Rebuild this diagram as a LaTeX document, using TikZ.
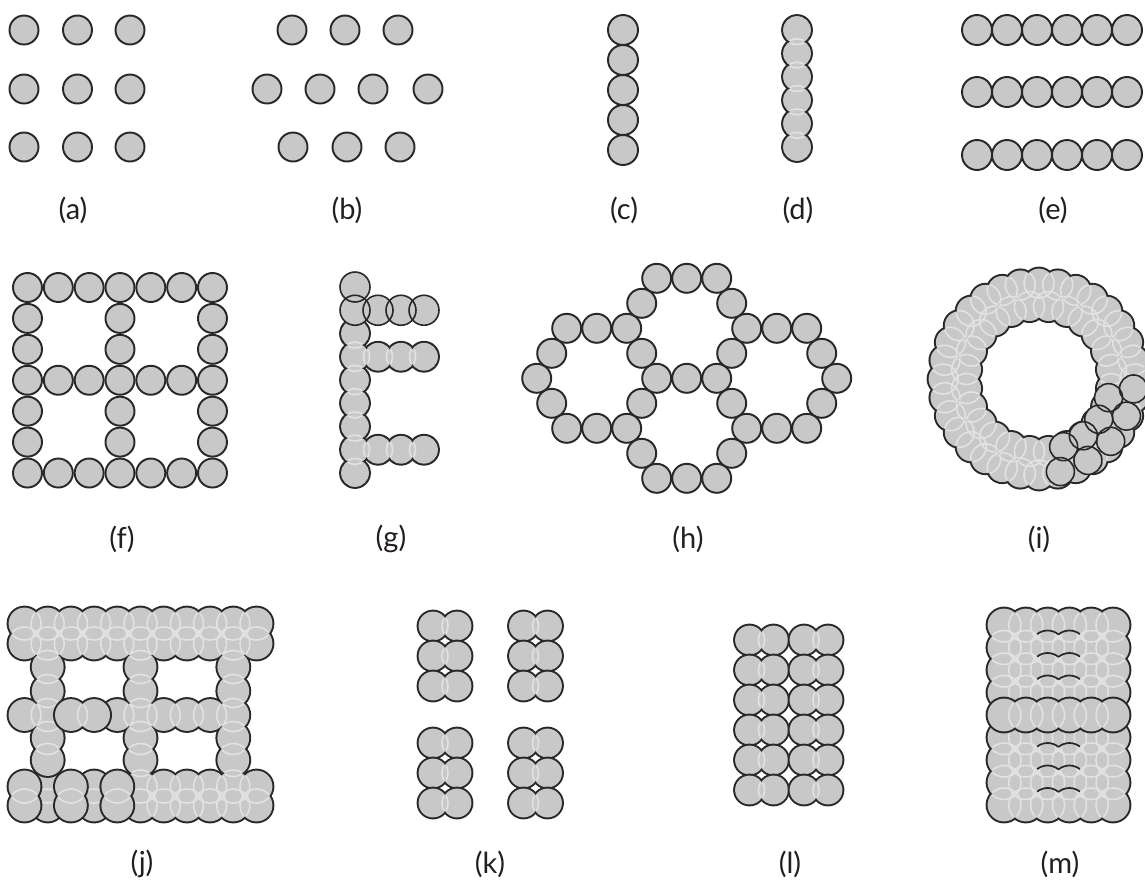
\documentclass[tikz,border=0pt]{standalone}
\usepackage{fontspec}
\setmainfont{Lato}
\definecolor{fillc}{RGB}{200,200,200}
\definecolor{outc}{RGB}{40,40,40}
\definecolor{lightc}{RGB}{226,226,226}
\definecolor{labc}{RGB}{35,31,32}
\newcommand\addpt[3]{\ifx#1\empty\xdef#1{#2/#3}\else\xdef#1{#1,#2/#3}\fi}
\newcommand\blob[2]{%
  \foreach \bx/\by in #2 {\fill[outc] (\bx,\by) circle ({#1+1.4});}
  \foreach \bx/\by in #2 {\fill[fillc] (\bx,\by) circle ({#1-0.6});}
  \begin{scope}
    \clip foreach \bx/\by in #2 {(\bx,\by) circle ({#1-1.6})};
    \foreach \bx/\by in #2 {\draw[lightc,line width=0.9pt] (\bx,\by) circle (#1);}
  \end{scope}}
\tikzset{
  ball/.style={fill=fillc,draw=outc,line width=1.1pt},
  thinring/.style={draw=outc,line width=0.9pt},
  lab/.style={text=labc,font=\fontsize{16.5}{19}\selectfont,inner sep=0pt}
}
\begin{document}
\begin{tikzpicture}[x=0.02cm,y=-0.02cm]
\useasboundingbox (0,0) rectangle (1145,883);
% (a)
\foreach \xx in {24,77.5,130}{\foreach \yy in {30,89,147}{\draw[ball] (\xx,\yy) circle (14.5);}}
% (b)
\foreach \xx/\yy in {292/30,345/30,398/30,267/89,320/89,373/89,428/89,293/147,347/147,400/147}
  {\draw[ball] (\xx,\yy) circle (14.5);}
% (c)
\foreach \yy in {30,60,90,120,150}{\draw[ball] (623,\yy) circle (15);}
% (d)
\blob{14.5}{{797/30,797/53.4,797/76.8,797/100.2,797/123.6,797/147}}
% (e)
\foreach \k in {0,...,5}{\foreach \yy in {30,92,155}{\draw[ball] ({977+30*\k},\yy) circle (15);}}
% (f)
\foreach \i in {0,...,6}{\foreach \j in {0,...,6}{
  \pgfmathtruncatemacro\ok{(\i==0)||(\i==3)||(\i==6)||(\j==0)||(\j==3)||(\j==6)}
  \ifnum\ok=1 \draw[ball] ({27.5+30.83*\i},{287.5+30.92*\j}) circle (14.5);\fi}}
% (g)
\blob{14.5}{{355/333.5,355/356.75,355/380,355/403.25,355/426.5,355/449.75,355/473,378/356.75,401/356.75,424/356.75,378/449.75,401/449.75,424/449.75}}
\foreach \xx/\yy in {355/287,355/310.25,378/310.25,401/310.25,424/310.25}{\fill[fillc] (\xx,\yy) circle (15);}
\foreach \xx/\yy in {355/287,355/310.25,378/310.25,401/310.25,424/310.25}{\draw[thinring] (\xx,\yy) circle (15);}
% (h)
\foreach \dx/\dy in {-150/0,-30/0,0/0,30/0,150/0,-135/-1,-45/-1,45/-1,135/-1,-135/1,-45/1,45/1,135/1,
  -120/-2,-90/-2,-60/-2,60/-2,90/-2,120/-2,-120/2,-90/2,-60/2,60/2,90/2,120/2,
  -45/-3,45/-3,-45/3,45/3,-30/-4,0/-4,30/-4,-30/4,0/4,30/4}
  {\draw[ball] ({686.7+\dx},{378.3+25*\dy}) circle (14.5);}
% (i)
\def\Li{}
\foreach \n in {0,...,31}{\pgfmathsetmacro\px{1039+96*cos(\n*11.25)}\pgfmathsetmacro\py{379+96*sin(\n*11.25)}\addpt\Li\px\py}
\foreach \n in {0,...,23}{\pgfmathsetmacro\px{1039+73*cos(\n*15+7.5)}\pgfmathsetmacro\py{379+73*sin(\n*15+7.5)}\addpt\Li\px\py}
\blob{15}{\Li}
\foreach \a/\rr in {6/95,23/95,41/95,59/95,77/95,15/72,34/72,52/72,70/72}{\fill[fillc] (1039,379) ++(\a:\rr) circle (14);}
\foreach \a/\rr in {6/95,23/95,41/95,59/95,77/95,15/72,34/72,52/72,70/72}{\draw[thinring] (1039,379) ++(\a:\rr) circle (14);}
% (j)
\def\Lj{}
\foreach \k in {0,...,10}{\pgfmathsetmacro\px{24.5+23.2*\k}\addpt\Lj\px{623.5}\addpt\Lj\px{643.5}}
\foreach \xx in {47.7,140.5,233.3}{\foreach \yy in {667,691,715,738,760}{\addpt\Lj\xx\yy}}
\foreach \xx in {24.5,117.3,163.7,186.9,210.1}{\addpt\Lj\xx{715}}
\foreach \k in {5,...,10}{\pgfmathsetmacro\px{24.5+23.2*\k}\addpt\Lj\px{786.5}\addpt\Lj\px{805.5}}
\blob{16.5}{{47.7/786.5,47.7/805.5}}
\blob{16.5}{{94.1/786.5,94.1/805.5}}
\blob{16.5}{\Lj}
\blob{16.5}{{70.9/715,94.1/715}}
\blob{16.5}{{24.5/786.5,24.5/805.5}}
\blob{16.5}{{70.9/786.5,70.9/805.5}}
\blob{16.5}{{117.3/786.5,117.3/805.5}}
% (k)
\foreach \cx in {445,535.5}{\foreach \cy in {626,656,686,743,773,803}{\blob{15}{{\cx-12/\cy,\cx+12/\cy}}}}
% (l)
\foreach \cx in {761.5,816}{\foreach \cy in {640,670,700,730,760,790}{\blob{15}{{\cx-12/\cy,\cx+12/\cy}}}}
% (m)
\def\Lmt{}\def\Lmb{}\def\Lmm{}
\foreach \k in {0,...,5}{\pgfmathsetmacro\px{1004+21.8*\k}
  \foreach \j in {0,...,3}{\pgfmathsetmacro\py{625+22.5*\j}\addpt\Lmt\px\py}
  \foreach \j in {5,...,8}{\pgfmathsetmacro\py{625+22.5*\j}\addpt\Lmb\px\py}
  \pgfmathsetmacro\py{625+22.5*4}\addpt\Lmm\px\py}
\blob{17}{\Lmt}
\blob{17}{\Lmb}
\foreach \j in {1,2,3,6,7,8}{\pgfmathsetmacro\py{625+22.5*\j}
  \draw[outc,line width=1pt] (1047.6,\py) ++(232:17) arc[start angle=232,end angle=309.9,radius=17];
  \draw[outc,line width=1pt] (1069.4,\py) ++(230.1:17) arc[start angle=230.1,end angle=308,radius=17];}
\blob{17}{\Lmm}
% labels
\node[lab] (la) at (73,210) {(a)};
\node[lab] (lb) at (347,210) {(b)};
\node[lab] (lc) at (624,210) {(c)};
\node[lab] (ld) at (798,210) {(d)};
\node[lab] (le) at (1053,210) {(e)};
\node[lab] (lf) at (122,539) {(f)};
\node[lab] (lg) at (391,539) {(g)};
\node[lab] (lh) at (688,539) {(h)};
\node[lab] (li) at (1039,539) {(i)};
\node[lab] (lj) at (142,864) {(j)};
\node[lab] (lk) at (490,864) {(k)};
\node[lab] (ll) at (790,864) {(l)};
\node[lab] (lm) at (1060,864) {(m)};
\end{tikzpicture}
\end{document}
